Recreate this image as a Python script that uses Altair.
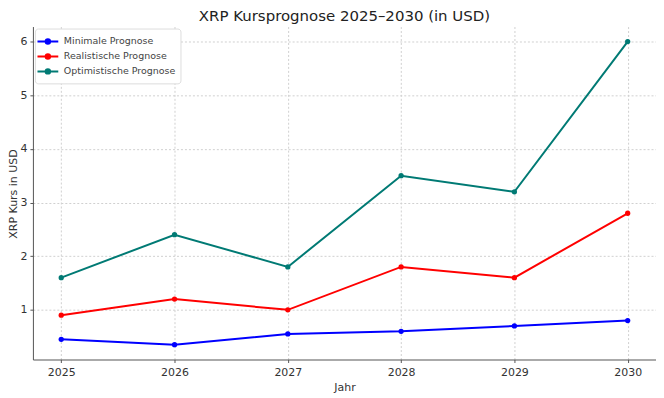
import altair as alt
import pandas as pd

years = [2025, 2026, 2027, 2028, 2029, 2030]
minimal = [0.45, 0.35, 0.55, 0.60, 0.70, 0.80]
realistic = [0.90, 1.20, 1.00, 1.80, 1.60, 2.80]
optimistic = [1.60, 2.40, 1.80, 3.50, 3.20, 6.00]
series_names = ["Minimale Prognose", "Realistische Prognose", "Optimistische Prognose"]
series_colors = ["#0000ff", "#ff0000", "#007a74"]

rows = []
for name, vals in zip(series_names, [minimal, realistic, optimistic]):
    for y, v in zip(years, vals):
        rows.append({"Jahr": y, "Wert": v, "Serie": name})
df = pd.DataFrame(rows)

font = "DejaVu Sans"
x = alt.X("Jahr:Q", title="Jahr",
          scale=alt.Scale(domain=[2024.75, 2030.25], nice=False, zero=False),
          axis=alt.Axis(values=years, format="d", grid=True, gridDash=[2, 2],
                        gridColor="#d0d0d0", domainColor="#555", tickColor="#555",
                        tickSize=3, labelFontSize=11, titleFontSize=11, titleFontWeight="normal",
                        labelColor="#333", titleColor="#333", labelPadding=4, titlePadding=4))
y = alt.Y("Wert:Q", title="XRP Kurs in USD",
          scale=alt.Scale(domain=[0.074, 6.28], nice=False, zero=False),
          axis=alt.Axis(values=[1, 2, 3, 4, 5, 6], grid=True, gridDash=[2, 2],
                        gridColor="#d0d0d0", domainColor="#555", tickColor="#555",
                        tickSize=3, labelFontSize=11, titleFontSize=11, titleFontWeight="normal",
                        labelColor="#333", titleColor="#333", labelPadding=3,
                        titleX=-19, titleY=167.5, titleBaseline="middle", titleAngle=270))
color = alt.Color("Serie:N", sort=series_names,
                  scale=alt.Scale(domain=series_names, range=series_colors),
                  legend=alt.Legend(title=None, orient="top-left", offset=2,
                                    symbolType="M-1.6,0H1.6M-0.34,0A0.34,0.34,0,1,1,0.34,0A0.34,0.34,0,1,1,-0.34,0Z",
                                    symbolSize=170, symbolStrokeWidth=2, labelFontSize=9.5,
                                    labelColor="#444", fillColor="white", strokeColor="#ddd",
                                    cornerRadius=3, padding=5, rowPadding=0, labelOffset=8))

base = alt.Chart(df).encode(x=x, y=y, color=color)
lines = base.mark_line(strokeWidth=2)
points = base.mark_point(filled=True, size=28, opacity=1)

chart = (lines + points).properties(
    width=625, height=334,
    title=alt.Title("XRP Kursprognose 2025–2030 (in USD)", fontSize=15, font=font,
                    fontWeight="normal", color="#222", offset=3),
    autosize=alt.AutoSizeParams(type="none"),
    padding={"left": 25, "top": 18, "right": 0, "bottom": 38},
).configure(font=font).configure_view(stroke=None)

chart.save("out.html", embed_options={"renderer": "svg", "actions": False})
